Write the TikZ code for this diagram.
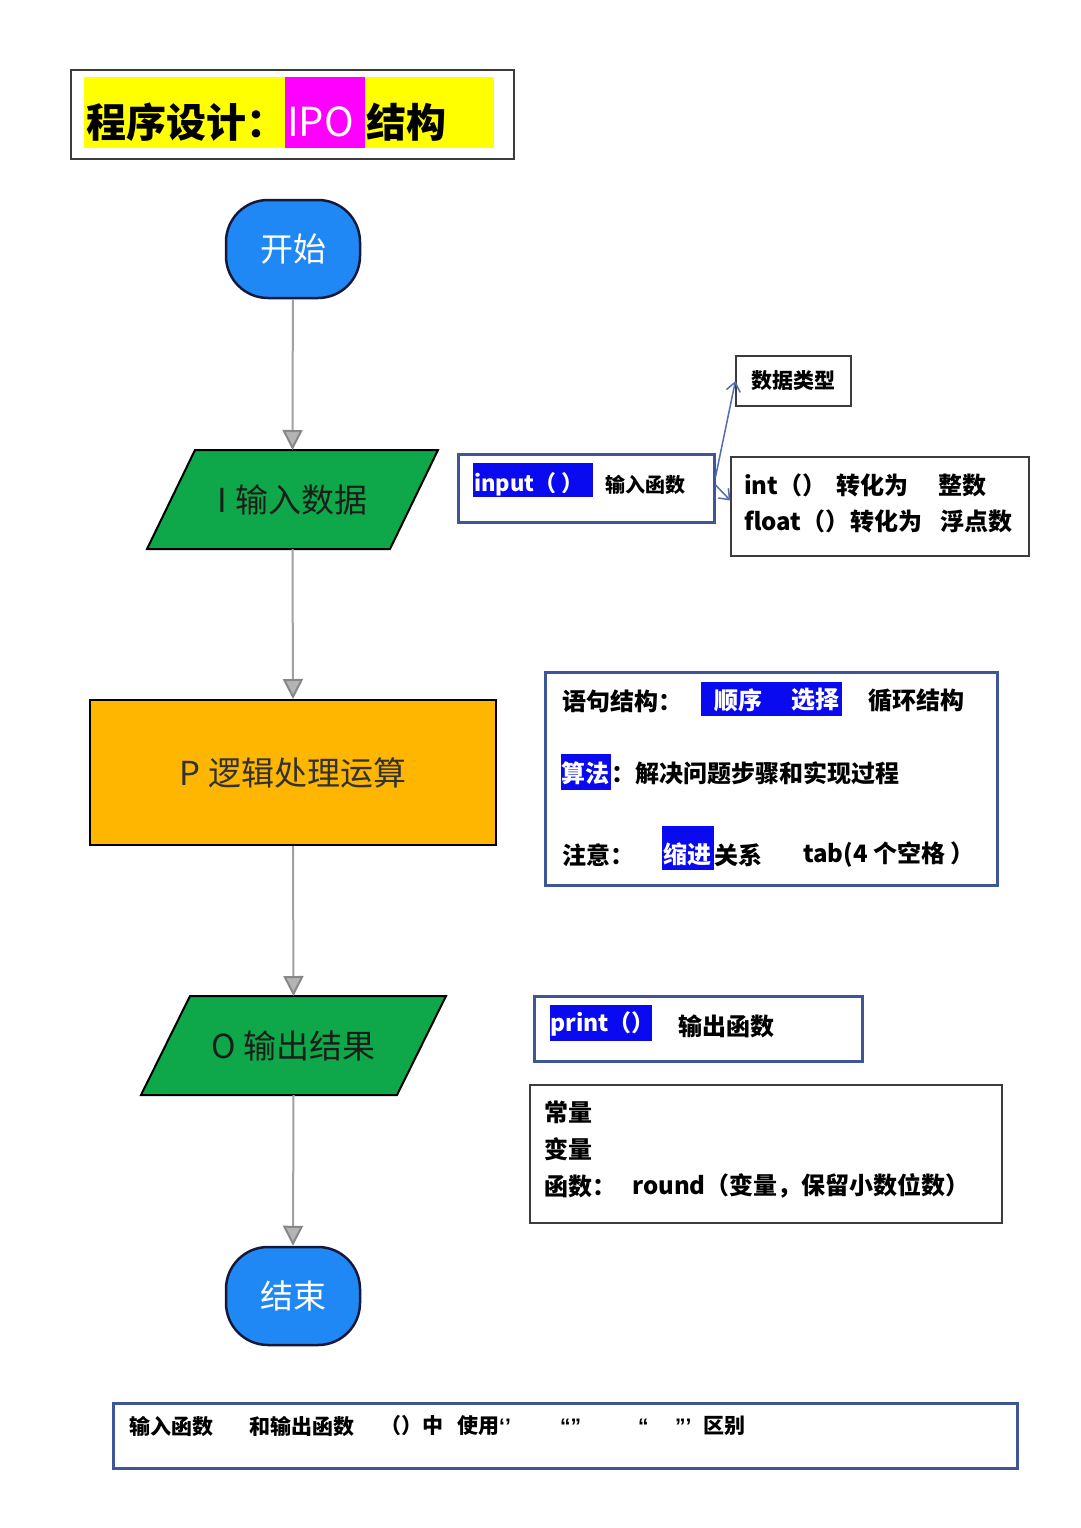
\documentclass[tikz,border=0pt]{standalone}
\usepackage{fontspec}
\setmainfont{Noto Sans CJK SC}
\newfontfamily\latf{Liberation Sans}
\usetikzlibrary{shapes.geometric,arrows.meta,calc}
\definecolor{hlblue}{RGB}{10,10,240}
\definecolor{boxblue}{RGB}{62,86,150}
\definecolor{startblue}{RGB}{32,136,245}
\definecolor{flowgreen}{RGB}{14,168,74}
\definecolor{procorange}{RGB}{255,182,0}
\definecolor{arrgray}{RGB}{160,160,160}
\definecolor{tipfill}{RGB}{180,180,180}
\definecolor{linkblue}{RGB}{80,110,175}
\definecolor{titlemag}{RGB}{255,0,255}
\definecolor{titleyel}{RGB}{255,255,0}
\begin{document}
\begin{tikzpicture}[x=1pt,y=-1pt,
  txt/.style={anchor=west,inner sep=0pt,font=\bfseries\fontsize{24}{28}\selectfont},
  wtxt/.style={txt,text=white},
  thinbox/.style={draw={rgb,255:red,60;green,60;blue,60},line width=1.2pt,inner sep=0pt},
  bluebox/.style={draw=boxblue,line width=3pt,inner sep=0pt},
  term/.style={draw={rgb,255:red,20;green,25;blue,60},line width=2.5pt,fill=startblue,rounded corners=42pt,
     minimum width=134pt,minimum height=98pt,text=white,font=\fontsize{33}{36}\selectfont},
  iobox/.style={minimum height=99pt,minimum width=243pt,inner sep=0pt,outer sep=0pt},
  ioshape/.style={draw=black,line width=2pt,fill=flowgreen,line join=miter},
  iotext/.style={text={rgb,255:red,25;green,30;blue,25},font=\fontsize{33}{36}\selectfont},
  flow/.style={draw=arrgray,line width=2pt,-{Triangle[width=20pt,length=20pt,color={rgb,255:red,135;green,135;blue,135},fill=tipfill]}},
  link/.style={draw=linkblue,line width=1.5pt,-{Straight Barb[length=9pt,width=14pt]}}
]
\useasboundingbox (0,0) rectangle (1080,1528);
\fill[white] (0,0) rectangle (1080,1528);

% title
\node[thinbox,minimum width=443pt,minimum height=89pt] (title) at (292.5,114.5) {};
\fill[titleyel] (84,77) rectangle (494,148);
\fill[titlemag] (285,77) rectangle (365,148);
\node[txt,font=\bfseries\fontsize{40}{44}\selectfont] (t1) at (86,122) {程序设计：};
\node[wtxt,font=\fontsize{40}{44}\selectfont] (t2) at (287,122) {IPO};
\node[txt,font=\bfseries\fontsize{40}{44}\selectfont] (t3) at (366,122) {结构};

% flowchart
\node[term] (start) at (293,249) {开始};

\node[iobox] (inp) at (292.5,499.5) {};
\draw[ioshape] ($(inp.north west)+(24,0)$) -- ($(inp.north east)+(24,0)$)
   -- ($(inp.south east)+(-24,0)$) -- ($(inp.south west)+(-24,0)$) -- cycle;
\node[iotext] (inptxt) at (inp) {I 输入数据};

\node[draw=black,line width=2pt,fill=procorange,minimum width=406pt,minimum height=145pt,
      text={rgb,255:red,50;green,50;blue,50},font=\fontsize{33}{36}\selectfont] (proc) at (293,772.5) {P 逻辑处理运算};

\node[iobox,minimum width=256pt] (outp) at (293.5,1045.5) {};
\draw[ioshape] ($(outp.north west)+(24.5,0)$) -- ($(outp.north east)+(24.5,0)$)
   -- ($(outp.south east)+(-24.5,0)$) -- ($(outp.south west)+(-24.5,0)$) -- cycle;
\node[iotext] (outptxt) at (outp) {O 输出结果};

\node[term] (stop) at (293,1296) {结束};

\draw[flow] (start) -- (inp.north);
\draw[flow] (inp.south) -- (proc.north);
\draw[flow] (proc.south) -- (outp.north);
\draw[flow] (outp.south) -- (stop.north);

% input box
\node[bluebox,minimum width=256pt,minimum height=68pt] (inbox) at (586,488) {};
\fill[hlblue] (473,463) rectangle (593,497);
\node[wtxt,font=\bfseries\fontsize{22}{26}\selectfont] (i1) at (474,484) {input（ ）};
\node[txt,font=\bfseries\fontsize{20}{24}\selectfont] (i2) at (605,485) {输入函数};

% data type
\node[thinbox,minimum width=115pt,minimum height=50pt,font=\bfseries\fontsize{21}{24}\selectfont] (dt) at (793.5,381) {数据类型};

% int box
\node[thinbox,minimum width=298pt,minimum height=99pt] (intb) at (880,506.5) {};
\node[txt] (n1) at (744,485) {int（）};
\node[txt] (n2) at (836,485) {转化为};
\node[txt] (n3) at (938,485) {整数};
\node[txt] (n4) at (744,521) {float（）};
\node[txt] (n5) at (850,521) {转化为};
\node[txt] (n6) at (940,521) {浮点数};

\draw[link] ($(inbox.east)+(0,-11)$) -- (dt.west);
\draw[link] ($(inbox.east)+(0,-3)$) -- ($(intb.west)+(0,-6)$);

% statement box
\node[bluebox,minimum width=452pt,minimum height=213pt] (stmt) at (771,778.5) {};
\fill[hlblue] (701,682) rectangle (842,716);
\fill[hlblue] (561,754) rectangle (611,790);
\fill[hlblue] (662,826) rectangle (714,870);
\node[txt] (s1) at (562,701) {语句结构：};
\node[wtxt] (s2) at (714,700) {顺序};
\node[wtxt] (s3) at (791,700) {选择};
\node[txt] (s4) at (868,701) {循环结构};
\node[wtxt] (s5) at (561,773) {算法};
\node[txt] (s6) at (611,773) {：解决问题步骤和实现过程};
\node[txt] (s7) at (562,855) {注意：};
\node[wtxt] (s8) at (663,854) {缩进};
\node[txt] (s9) at (714,855) {关系};
\node[txt] (s10) at (803,855) {tab(4 个空格 ）};

% print box
\node[bluebox,minimum width=328pt,minimum height=65pt] (pbox) at (698,1028.5) {};
\fill[hlblue] (550,1005) rectangle (652,1041);
\node[wtxt,font=\bfseries\fontsize{23}{26}\selectfont] (p1) at (550,1024) {print（）};
\node[txt] (p2) at (678,1026) {输出函数};

% constant box
\node[thinbox,minimum width=472pt,minimum height=138pt] (cbox) at (766,1154) {};
\node[txt] (c1) at (544,1112) {常量};
\node[txt] (c2) at (544,1149) {变量};
\node[txt] (c3) at (544,1186) {函数：};
\node[txt] (c4) at (632,1186) {round（变量，保留小数位数）};

% bottom box
\node[bluebox,minimum width=904pt,minimum height=65pt] (bbox) at (565,1435.5) {};
\begin{scope}[every node/.style={txt,font=\bfseries\fontsize{21}{24}\selectfont}]
\node (b1) at (129,1426) {输入函数};
\node (b2) at (249,1426) {和输出函数};
\node (b3) at (380,1426) {（）中};
\node (b4) at (457,1426) {使用{\latf\bfseries ‘’}};
\node (b5) at (560,1426) {{\latf\bfseries “”}};
\node (b6) at (638,1426) {{\latf\bfseries “}};
\node (b7) at (675,1426) {{\latf\bfseries ”’}};
\node (b8) at (703,1426) {区别};
\end{scope}
\end{tikzpicture}
\end{document}
